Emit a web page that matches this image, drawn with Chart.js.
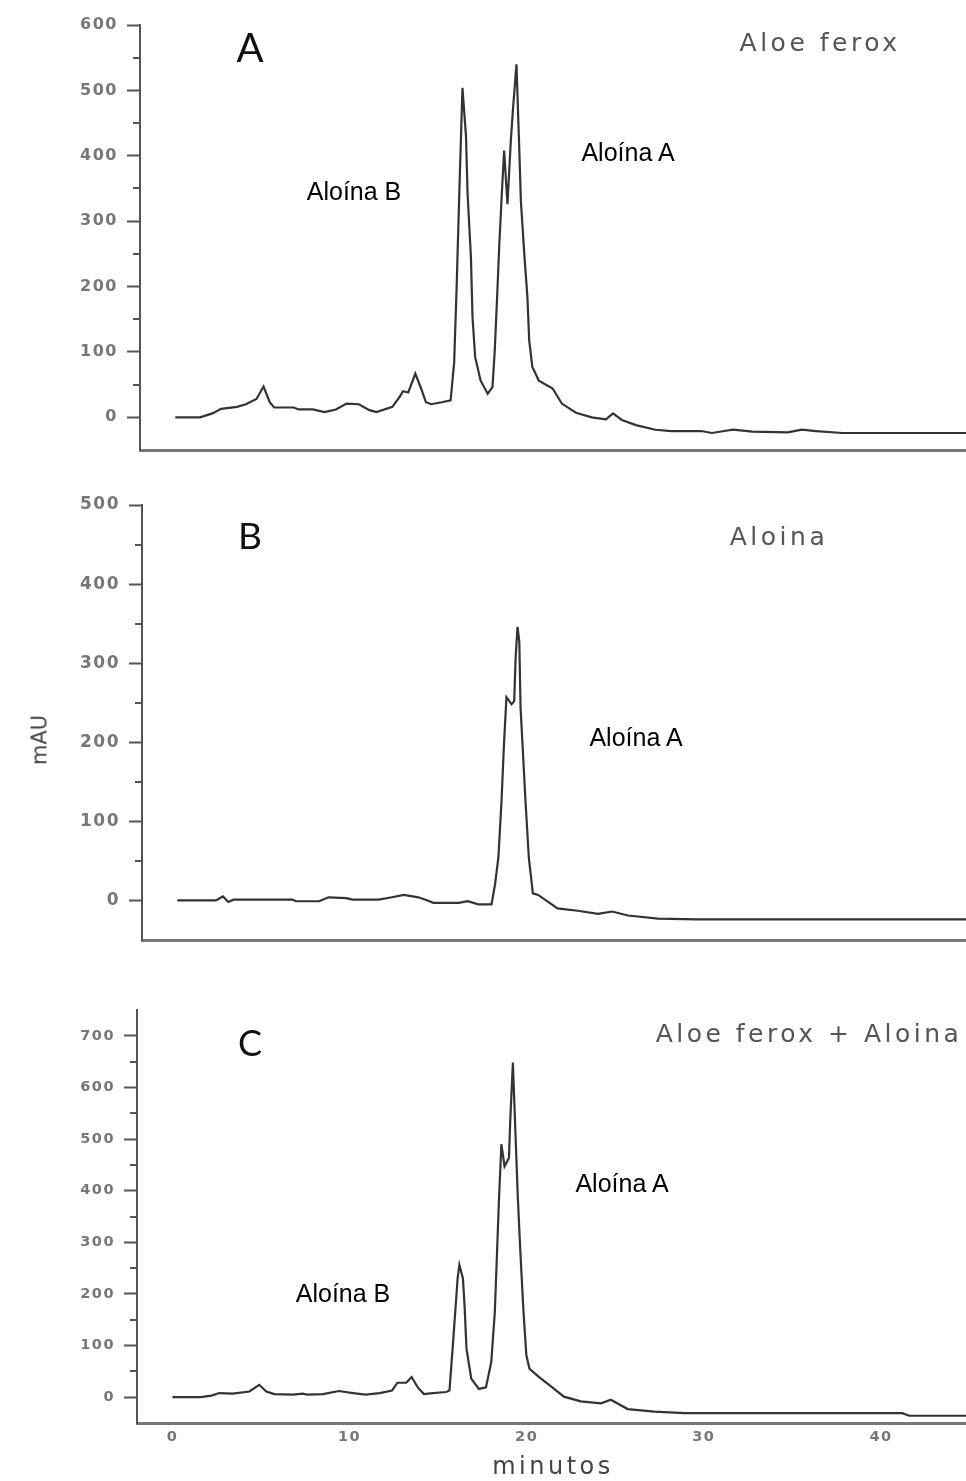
<!DOCTYPE html>
<html lang="es">
<head>
<meta charset="UTF-8" />
<title>HPLC - Aloe ferox / Aloína</title>
<script src="https://cdn.jsdelivr.net/npm/chart.js"></script>
<style>
    body { margin: 0; background: #fff; }
    #page { position: relative; width: 966px; height: 1481px; overflow: hidden; background: #fff; }
    .panel { position: absolute; left: 0; width: 966px; }
    .txt { position: absolute; white-space: nowrap; line-height: 1; transform: translate(-50%, -50%); }
    .letter { font-family: 'Lato', sans-serif; color: #111; }
    .sample { font-family: 'DejaVu Sans', sans-serif; font-size: 25px; letter-spacing: 3.5px; color: #555; }
    .peak { font-family: 'Liberation Sans', Arial, sans-serif; font-size: 25px; color: #000; }
    .axis { font-family: 'DejaVu Sans', sans-serif; color: #444; }
</style>
</head>
<body>
<div id="page">
    <div class="panel" style="top:0"><canvas id="chartA" width="966" height="470"></canvas></div>
    <div class="panel" style="top:480px"><canvas id="chartB" width="966" height="480"></canvas></div>
    <div class="panel" style="top:985px"><canvas id="chartC" width="966" height="496"></canvas></div>

    <div class="txt letter" style="left:250px;top:47px;font-size:40px">A</div>
    <div class="txt sample" style="left:820px;top:42px">Aloe ferox</div>
    <div class="txt peak" style="left:354px;top:191px">Aloína B</div>
    <div class="txt peak" style="left:628px;top:152px">Aloína A</div>

    <div class="txt letter" style="left:250px;top:534px;font-size:37px">B</div>
    <div class="txt sample" style="left:779px;top:536px">Aloina</div>
    <div class="txt peak" style="left:636px;top:737px">Aloína A</div>

    <div class="txt letter" style="left:250px;top:1042px;font-size:36px">C</div>
    <div class="txt sample" style="left:809px;top:1033px">Aloe ferox + Aloina</div>
    <div class="txt peak" style="left:343px;top:1293px">Aloína B</div>
    <div class="txt peak" style="left:622px;top:1183px">Aloína A</div>

    <div class="txt axis" style="left:40px;top:740px;font-size:21px;transform:translate(-50%,-50%) rotate(-90deg)">mAU</div>
    <div class="txt axis" style="left:553px;top:1466px;font-size:24px;letter-spacing:3.5px">minutos</div>
</div>

<script>
// retention time (min) and absorbance (mAU)
const timeA = [0, 1.4, 2.1, 2.6, 3.5, 4.0, 4.6, 5.0, 5.35, 5.6, 6.7, 7.0, 7.8, 8.45, 9.1, 9.7, 10.4, 11.0, 11.4, 12.3,
    12.7, 12.9, 13.2, 13.6, 13.9, 14.2, 14.5, 15.1, 15.6, 15.8, 15.94, 16.09, 16.27, 16.47, 16.56, 16.75, 16.84, 16.99, 17.3, 17.7,
    17.97, 18.1, 18.25, 18.35, 18.5, 18.63, 18.82, 19.01, 19.14, 19.33, 19.48, 19.58, 19.76, 19.95, 20.05, 20.23, 20.6, 21.38, 21.9, 22.7,
    23.6, 24.4, 24.8, 25.3, 26.1, 27.2, 28.1, 29.8, 30.4, 31.1, 31.6, 32.7, 34.7, 35.5, 36.3, 37.8, 44.8];
const signalA = [0, 0, 6, 13, 16, 20, 28, 47, 23, 15, 15, 12, 12, 8, 12, 21, 20, 11, 8, 16,
    31, 40, 38, 67, 46, 23, 20, 23, 26, 84, 199, 342, 504, 430, 342, 245, 153, 92, 56, 36,
    46, 102, 194, 260, 342, 408, 326, 423, 474, 540, 418, 331, 255, 184, 118, 77, 56, 44, 21, 7,
    0, -3, 6, -4, -12, -19, -21, -21, -24, -21, -19, -22, -23, -19, -21, -24, -24];

const timeB = [0, 2.2, 2.6, 2.9, 3.2, 6.55, 6.75, 8.06, 8.6, 9.6, 9.95, 11.45, 12.2, 12.87, 13.7, 14.1, 14.56, 16.0, 16.5, 17.1,
    17.85, 18.05, 18.24, 18.42, 18.56, 18.7, 18.99, 19.14, 19.22, 19.33, 19.43, 19.5, 19.65, 19.78, 19.97,
    20.2, 20.5, 21.6, 22.75, 23.9, 24.7, 25.6, 27.3, 29.5, 44.8];
const signalB = [0, 0, 5, -2, 1, 1, -1, -1, 4, 3, 1, 1, 4, 7, 4, 1, -3, -3, -1, -5,
    -5, 20, 54, 126, 198, 257, 248, 252, 307, 346, 327, 244, 181, 126, 54,
    9, 7, -10, -13, -17, -14, -19, -23, -24, -24];

const timeC = [0, 1.6, 2.2, 2.65, 3.4, 4.35, 4.9, 5.3, 5.75, 6.8, 7.35, 7.6, 8.5, 9.4, 10.2, 10.9, 11.7, 12.4, 12.7, 13.2,
    13.5, 13.85, 14.2, 14.7, 15.45, 15.64, 15.83, 15.98, 16.1, 16.2, 16.4, 16.5, 16.6, 16.87, 17.3, 17.7, 18.0, 18.2, 18.32, 18.43,
    18.57, 18.75, 19.0, 19.07, 19.22, 19.36, 19.5, 19.65, 19.82, 19.98, 20.16, 20.7, 21.3, 22.1, 23.05, 24.2, 24.75, 25.7, 27.2, 28.9,
    41.2, 41.6, 44.8];
const signalC = [0, 0, 3, 8, 7, 11, 24, 11, 6, 5, 7, 5, 6, 12, 8, 5, 8, 13, 28, 28,
    39, 19, 6, 8, 10, 13, 100, 172, 230, 256, 230, 172, 94, 36, 16, 19, 68, 165, 276, 379,
    490, 447, 464, 535, 648, 516, 386, 276, 165, 81, 55, 39, 23, 1, -8, -12, -5, -23, -28, -31,
    -31, -36, -36];

// axis ticks
const yTicksA = [0, 100, 200, 300, 400, 500, 600];
const yTicksB = [0, 100, 200, 300, 400, 500];
const yTicksC = [0, 100, 200, 300, 400, 500, 600, 700];
const xTicksC = [0, 10, 20, 30, 40];

// small ticks between the labelled ones + wide lettering of the scanned figure
const minorTicks = {
    id: 'minorTicks',
    beforeDraw(chart) {
        chart.ctx.letterSpacing = '1.5px';
    },
    afterDraw(chart) {
        const ctx = chart.ctx;
        const y = chart.scales.y;
        const vals = y.ticks.map(t => t.value);
        ctx.save();
        ctx.strokeStyle = '#555';
        ctx.lineWidth = 2;
        for (let i = 0; i < vals.length - 1; i++) {
            const py = Math.round(y.getPixelForValue((vals[i] + vals[i + 1]) / 2));
            ctx.beginPath();
            ctx.moveTo(y.right - 7, py);
            ctx.lineTo(y.right, py);
            ctx.stroke();
        }
        ctx.restore();
    }
};

function makePanel(id, times, signal, yMax, yTicks, axisLeft, fontSize, showX, pad) {
    const points = times.map((t, i) => ({ x: t, y: signal[i] }));
    return new Chart(document.getElementById(id), {
        type: 'line',
        data: {
            datasets: [{
                data: points,
                borderColor: '#333',
                borderWidth: 2.2,
                pointRadius: 0,
                tension: 0,
                fill: false
            }]
        },
        plugins: [minorTicks],
        options: {
            responsive: false,
            animation: false,
            devicePixelRatio: 1,
            layout: { padding: pad },
            plugins: {
                legend: { display: false },
                tooltip: { enabled: false }
            },
            scales: {
                x: {
                    type: 'linear',
                    min: -2,
                    max: 44.8,
                    afterBuildTicks: s => { s.ticks = xTicksC.map(v => ({ value: v })); },
                    afterFit: s => { s.height = showX ? 30 : 0; },
                    grid: { display: false, drawTicks: false },
                    border: { color: '#777', width: 3 },
                    ticks: {
                        display: showX,
                        color: '#777',
                        padding: 6,
                        maxRotation: 0,
                        font: { family: 'DejaVu Sans', size: 14.5, weight: 'bold' }
                    }
                },
                y: {
                    min: -50,
                    max: yMax,
                    afterBuildTicks: s => { s.ticks = yTicks.map(v => ({ value: v })); },
                    afterFit: s => { s.width = axisLeft; },
                    grid: { drawOnChartArea: false, drawTicks: true, tickLength: 13, tickColor: '#555', tickWidth: 2 },
                    border: { color: '#555', width: 2 },
                    ticks: {
                        color: '#777',
                        padding: 9,
                        font: { family: 'DejaVu Sans', size: fontSize, weight: 'bold' }
                    }
                }
            }
        }
    });
}

makePanel('chartA', timeA, signalA, 600, yTicksA, 140, 16, false, { top: 25, bottom: 20, left: 0, right: 0 });
makePanel('chartB', timeB, signalB, 500, yTicksB, 142, 17, false, { top: 25, bottom: 20, left: 0, right: 0 });
makePanel('chartC', timeC, signalC, 750, yTicksC, 137, 14.5, true, { top: 25, bottom: 28, left: 0, right: 0 });
</script>
</body>
</html>
